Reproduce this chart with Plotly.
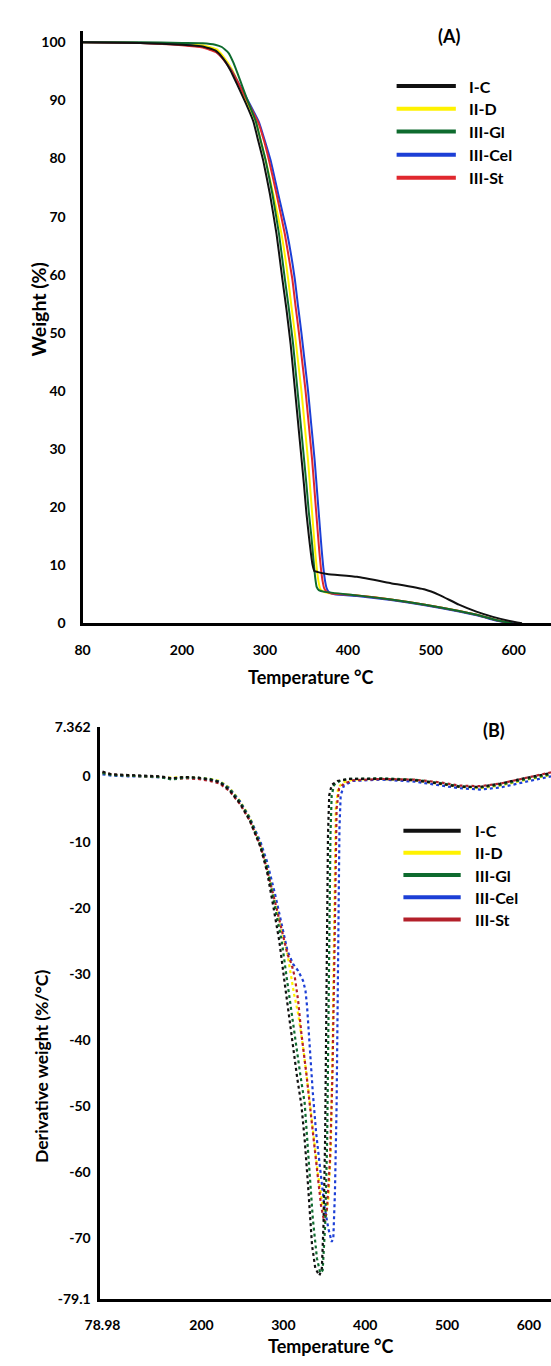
import plotly.graph_objects as go

# ---------------- data: TGA (panel A) ----------------
SERIES = ["I-C", "II-D", "III-Gl", "III-Cel", "III-St"]

IC_T = [80, 150, 200, 225, 240, 248, 258, 267, 277, 286, 292, 298, 306, 314, 321, 326, 331, 335, 339, 343, 347, 350, 353, 355.5, 357.5, 359.5, 364, 375, 411, 452, 493, 510, 534, 555, 575, 595, 610]
IC_W = [100, 99.9, 99.6, 99.3, 98.6, 97.5, 95.3, 92.6, 89.5, 86.4, 83, 79.6, 73.9, 67, 59.3, 54, 48, 42, 36, 30, 24, 19, 15, 12, 10, 9.0, 8.8, 8.5, 8.0, 6.9, 5.8, 4.9, 3.2, 2.0, 1.1, 0.4, 0]

YD_T = [80, 150, 200, 225, 242, 249, 260, 269, 279, 289, 295, 301, 310, 320, 328, 332, 336, 340, 344, 348, 352, 355, 358, 360.5, 362.5, 364.5, 366.5, 369, 376, 411, 452, 493, 534, 560, 575, 590, 598]
YD_W = [100, 99.9, 99.7, 99.5, 98.8, 97.7, 95.4, 92.7, 89.5, 86.4, 83, 79.6, 73.9, 67, 59.3, 54.5, 50, 45, 40, 34, 28, 22.5, 17, 12.5, 9.5, 7.3, 6.0, 5.6, 5.2, 4.8, 4.1, 3.2, 2.1, 1.3, 0.7, 0.2, 0]

GL_T = [80, 150, 200, 225, 240, 248, 256, 262, 270, 279, 289, 295, 301, 309, 317, 324, 329, 334, 338, 342, 346, 350, 353, 356, 358.5, 360.5, 362.5, 365, 372, 411, 452, 493, 534, 560, 575, 590, 598]
GL_W = [100, 100, 99.9, 99.85, 99.6, 99.2, 98.2, 96.5, 93.5, 90, 86.4, 83, 79.6, 73.9, 67, 59.3, 54, 48, 42, 36, 30, 24, 19, 15, 11, 8, 6.2, 5.7, 5.4, 4.8, 4.1, 3.2, 2.1, 1.3, 0.7, 0.2, 0]

CE_T = [80, 150, 200, 225, 241, 249, 260, 270, 282, 293, 300, 307, 316, 327, 336, 340, 344, 348, 352, 356, 360, 363, 366, 368.5, 370.5, 372.5, 374.5, 377, 384, 411, 452, 493, 534, 560, 575, 590, 600]
CE_W = [100, 99.9, 99.6, 99.2, 98.4, 97.3, 95.1, 92.5, 89.3, 86.2, 83, 79.6, 73.9, 67, 59.3, 54.5, 50, 45, 40, 34, 28, 22.5, 17, 12.5, 9.5, 7.3, 6.0, 5.4, 5.0, 4.7, 4.0, 3.1, 2.0, 1.2, 0.6, 0.15, 0]

ST_T = [80, 150, 200, 225, 241, 249, 260, 270, 281, 292, 299, 305, 314, 324, 333, 337, 341, 345, 349, 353, 357, 360, 363, 365.5, 367.5, 369.5, 371.5, 374, 381, 411, 452, 493, 534, 560, 575, 590, 598]
ST_W = [100, 99.9, 99.5, 99.1, 98.3, 97.2, 95.0, 92.4, 89.3, 86.2, 83, 79.6, 73.9, 67, 59.3, 54.5, 50, 45, 40, 34, 28, 22.5, 17, 12.5, 9.5, 7.3, 6.0, 5.5, 5.1, 4.8, 4.1, 3.2, 2.1, 1.3, 0.7, 0.2, 0]

# ---------------- data: DTG (panel B) ----------------
IC_dT = [78.98, 90, 110, 130, 150, 163, 180, 195, 210, 222, 234, 247, 259, 272, 280, 288, 295, 301, 307, 312, 317, 322, 326, 330, 335, 339, 344, 347, 349, 351, 352.5, 353.5, 354.5, 356, 359, 366, 380, 420, 460, 490, 515, 540, 565, 590, 620, 627]
IC_D = [0.6, 0.2, 0.1, 0.0, -0.1, -0.4, -0.2, -0.3, -0.6, -1.0, -2.2, -4.2, -6.8, -10.8, -14.5, -20, -25, -30.8, -36.4, -41.9, -45.8, -49.8, -55, -61.7, -71, -74.5, -75.6, -74.5, -68, -55, -38, -22, -9, -3, -1.4, -0.8, -0.5, -0.5, -0.7, -1.2, -1.7, -1.7, -1.2, -0.5, 0.2, 0.4]

YD_dT = [78.98, 90, 110, 130, 150, 163, 180, 195, 210, 222, 234, 247, 259, 272, 280, 290, 298, 305, 309, 313, 318, 324, 330, 336, 342, 348, 352, 355, 358, 360, 361.5, 362.5, 364, 367, 373, 385, 420, 460, 490, 515, 540, 565, 590, 620, 627]
YD_D = [0.3, 0.1, 0.0, -0.1, -0.2, -0.3, -0.2, -0.3, -0.5, -0.8, -1.8, -3.8, -6.3, -10.3, -13.8, -19, -23.5, -27, -30, -33, -36, -41, -47, -54, -60, -65, -66.5, -64, -56, -42, -28, -14, -5, -1.8, -1.0, -0.6, -0.5, -0.7, -1.2, -1.7, -1.9, -1.5, -0.8, -0.1, 0.1]

GL_dT = [78.98, 90, 110, 130, 150, 163, 180, 195, 210, 222, 234, 247, 259, 272, 280, 290, 298, 304, 310, 316, 321, 326, 331, 336, 341, 345, 348, 351, 353.5, 355, 356.5, 357.5, 359, 362, 369, 380, 420, 460, 490, 515, 540, 565, 590, 620, 627]
GL_D = [0.4, 0.1, 0.0, -0.1, -0.2, -0.6, -0.3, -0.3, -0.5, -0.9, -2.0, -4.0, -6.5, -10.5, -13.8, -20, -25, -30.5, -36, -41.5, -45.5, -49.5, -58, -67, -73, -75.2, -74.8, -68, -55, -38, -22, -9, -3, -1.4, -0.8, -0.5, -0.4, -0.6, -1.1, -1.6, -1.8, -1.4, -0.7, 0.0, 0.2]

CE_dT = [78.98, 90, 110, 130, 150, 163, 180, 195, 210, 222, 234, 247, 259, 272, 280, 290, 298, 305, 312, 318, 324, 327, 329, 331, 333, 336, 340, 345, 350, 355, 359, 361, 363, 365, 366.5, 367.5, 368.5, 370, 374, 385, 420, 460, 490, 515, 540, 565, 590, 620, 627]
CE_D = [0.2, 0.0, -0.1, -0.1, -0.3, -0.4, -0.3, -0.4, -0.6, -0.9, -1.9, -3.9, -6.4, -10.0, -13.0, -18, -22.5, -26.5, -28.5, -29.5, -31, -32.5, -35, -39, -43, -48, -54, -60, -65, -68.5, -70.5, -70, -63, -50, -35, -20, -8, -3, -1.5, -0.8, -0.6, -0.9, -1.4, -1.9, -2.1, -1.8, -1.1, -0.3, -0.1]

ST_dT = [78.98, 90, 110, 130, 150, 163, 180, 195, 210, 222, 234, 247, 259, 272, 280, 290, 298, 305, 310, 314, 318, 322, 328, 334, 340, 346, 350, 353, 357, 360, 362, 363.5, 365, 368, 374, 385, 420, 460, 490, 515, 540, 565, 590, 620, 627]
ST_D = [0.5, 0.2, 0.0, -0.1, -0.2, -0.5, -0.4, -0.5, -0.8, -1.2, -2.3, -4.3, -6.8, -10.6, -14.2, -19.2, -23.6, -27, -28.5, -30.5, -34, -39, -45, -52, -59, -65, -67.5, -66, -58, -45, -30, -15, -5, -2, -1.2, -0.7, -0.5, -0.6, -1.0, -1.5, -1.6, -1.2, -0.5, 0.3, 0.5]

# ---------------- ticks ----------------
A_XTICKS = [80, 200, 300, 400, 500, 600]
A_YTICKS = [0, 10, 20, 30, 40, 50, 60, 70, 80, 90, 100]
B_XTICKS = [78.98, 200, 300, 400, 500, 600]
B_XTEXT = ["78.98", "200", "300", "400", "500", "600"]
B_YTICKS = [7.362, 0, -10, -20, -30, -40, -50, -60, -70, -79.1]
B_YTEXT = ["7.362", "0", "-10", "-20", "-30", "-40", "-50", "-60", "-70", "-79.1"]

COLORS_A = {"I-C": "#111111", "II-D": "#FFF200", "III-Gl": "#0E6B2E", "III-Cel": "#1C3FD6", "III-St": "#E0282E"}
COLORS_B = {"I-C": "#111111", "II-D": "#FFF200", "III-Gl": "#0E6B2E", "III-Cel": "#1C3FD6", "III-St": "#B3202A"}

tga = {"I-C": (IC_T, IC_W), "II-D": (YD_T, YD_W), "III-Gl": (GL_T, GL_W),
       "III-Cel": (CE_T, CE_W), "III-St": (ST_T, ST_W)}
dtg = {"I-C": (IC_dT, IC_D), "II-D": (YD_dT, YD_D), "III-Gl": (GL_dT, GL_D),
       "III-Cel": (CE_dT, CE_D), "III-St": (ST_dT, ST_D)}

DRAW_ORDER = ["II-D", "III-Cel", "III-St", "III-Gl", "I-C"]

W, H = 551, 1366
FONT = "Lato"


def fx(p):
    return p / W


def fy(p):
    return 1 - p / H


fig = go.Figure()
for s in DRAW_ORDER:
    t, w = tga[s]
    fig.add_trace(go.Scatter(x=t, y=w, mode="lines", name=s, xaxis="x", yaxis="y",
                             line=dict(color=COLORS_A[s], width=2, shape="spline", smoothing=0.4),
                             showlegend=False))
for s in DRAW_ORDER:
    t, d = dtg[s]
    fig.add_trace(go.Scatter(x=t, y=d, mode="lines", name=s, xaxis="x2", yaxis="y2",
                             line=dict(color=COLORS_B[s], width=2.2, dash="dot"),
                             showlegend=False))

tickfont = dict(family=FONT, size=14, color="black", weight="bold")
axis_common = dict(showline=True, linecolor="black", linewidth=3, showgrid=False,
                   zeroline=False, ticks="", tickfont=tickfont, fixedrange=True)

fig.update_layout(
    width=W, height=H, margin=dict(l=0, r=0, t=0, b=0),
    paper_bgcolor="white", plot_bgcolor="white", showlegend=False,
    font=dict(family=FONT, color="black"),
    xaxis=dict(domain=[fx(68.5), 1.0], range=[80, 645], anchor="y",
               tickvals=A_XTICKS, ticklabelstandoff=12, **axis_common),
    yaxis=dict(domain=[fy(622), fy(22)], range=[0, 102], anchor="x",
               tickvals=A_YTICKS, ticklabelstandoff=11, **axis_common),
    xaxis2=dict(domain=[fx(87), 1.0], range=[76.5, 627], anchor="y2",
                tickvals=B_XTICKS, ticktext=B_XTEXT, ticklabelstandoff=11, **axis_common),
    yaxis2=dict(domain=[fy(1306), fy(727)], range=[-79.1, 7.362], anchor="x2",
                tickvals=B_YTICKS, ticktext=B_YTEXT, ticklabelstandoff=4, **axis_common),
)

shapes = []
annotations = []
xtitle_font = dict(family=FONT, size=18, color="black", weight="bold")
legend_font = dict(family=FONT, size=16, color="black", weight="bold")

# legends drawn like the original's long line samples
LEG_A_ROWS = [78, 101, 124, 147.5, 171]
LEG_B_ROWS = [832, 854.5, 877, 899.5, 922]
for rows, x0, x1, xt, cols in [(LEG_A_ROWS, 392, 453, 464, COLORS_A), (LEG_B_ROWS, 399, 458, 471, COLORS_B)]:
    for s, yy in zip(SERIES, rows):
        shapes.append(dict(type="line", xref="paper", yref="paper", x0=fx(x0), x1=fx(x1),
                           y0=fy(yy), y1=fy(yy), line=dict(color=cols[s], width=4)))
        annotations.append(dict(xref="paper", yref="paper", x=fx(xt), y=fy(yy), text=s,
                                showarrow=False, xanchor="left", yanchor="middle", font=legend_font))

# panel labels
panel_font = dict(family=FONT, size=18, color="black", weight="bold")
annotations.append(dict(xref="paper", yref="paper", x=fx(446), y=fy(27), text="(A)", showarrow=False,
                        xanchor="center", yanchor="middle", font=panel_font))
annotations.append(dict(xref="paper", yref="paper", x=fx(492), y=fy(730), text="(B)", showarrow=False,
                        xanchor="center", yanchor="middle", font=panel_font))

# axis titles
annotations.append(dict(xref="paper", yref="paper", x=fx(304), y=fy(676), text="Temperature °C",
                        showarrow=False, xanchor="center", yanchor="middle", font=xtitle_font))
annotations.append(dict(xref="paper", yref="paper", x=fx(324), y=fy(1354), text="Temperature °C",
                        showarrow=False, xanchor="center", yanchor="middle", font=xtitle_font))
annotations.append(dict(xref="paper", yref="paper", x=fx(23), y=fy(304), text="Weight (%)", textangle=-90,
                        showarrow=False, xanchor="center", yanchor="middle",
                        font=dict(family=FONT, size=19.5, color="black", weight="bold")))
annotations.append(dict(xref="paper", yref="paper", x=fx(26), y=fy(1071), text="Derivative weight (%/°C)",
                        textangle=-90, showarrow=False, xanchor="center", yanchor="middle",
                        font=dict(family=FONT, size=17.5, color="black", weight="bold")))

fig.update_layout(shapes=shapes, annotations=annotations)
fig.write_html("out.html")
